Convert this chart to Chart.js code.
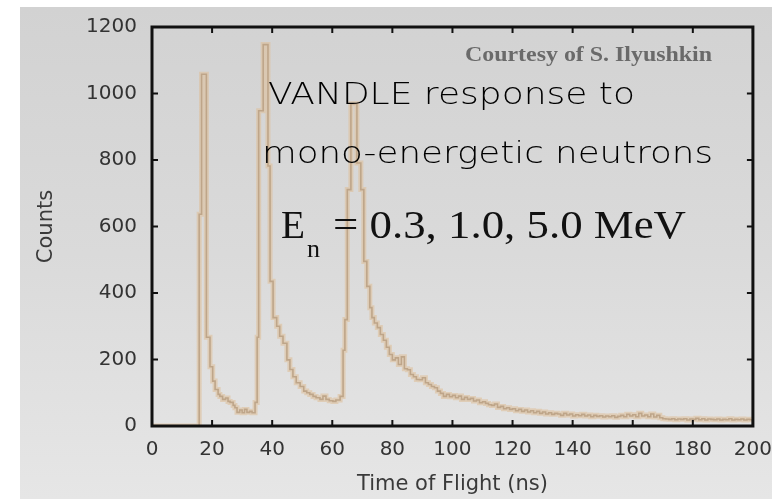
<!DOCTYPE html>
<html><head><meta charset="utf-8">
<script src="https://cdn.jsdelivr.net/npm/chart.js@4.4.1/dist/chart.umd.min.js"></script>
<style>html,body{margin:0;padding:0;background:#fff;}#wrap{width:784px;height:499px;}canvas{display:block}</style>
</head><body><div id="wrap"><canvas id="c" width="784" height="499"></canvas></div>
<script>
// ---- data (bin start in ns, counts in that bin) ----
const tofNs = [0,15.7,16.5,18.1,19.3,20.2,21.0,22.0,22.6,23.5,24.5,25.3,26.0,27.0,27.6,28.3,29.2,30.0,30.8,31.6,32.5,33.3,34.3,35.0,35.5,37.0,38.6,39.3,40.3,41.5,42.5,43.6,44.9,45.9,46.9,48.0,49.3,50.5,51.5,52.5,53.6,54.6,55.9,56.9,57.9,59.0,60.2,61.2,62.6,63.6,64.2,65.0,66.2,68.2,69.5,70.5,71.5,72.5,73.2,74,75,76,77,78,79,80,81,82,83,84,85,86,87,88,89,90,91,92,93,94,95,96,97,98,99,100,101,102,103,104,105,106,107,108,109,110,111,112,113,114,115,116,117,118,119,120,121,122,123,124,125,126,127,128,129,130,131,132,133,134,135,136,137,138,139,140,141,142,143,144,145,146,147,148,149,150,151,152,153,154,155,156,157,158,159,160,161,162,163,164,165,166,167,168,169,170,171,172,173,174,175,176,177,178,179,180,181,182,183,184,185,186,187,188,189,190,191,192,193,194,195,196,197,198,199,200];
const counts = [0,637,1058,267,178,135,110,95,89,80,84,74,71,62,55,41,48,40,50,41,44,40,71,267,948,1147,782,435,326,300,270,249,199,170,148,130,119,105,100,95,89,85,80,90,80,76,74,78,89,228,320,711,969,791,711,495,420,356,326,310,296,275,258,237,215,199,205,185,208,172,169,155,148,140,139,145,130,125,119,115,105,98,89,95,88,92,85,90,80,86,80,83,75,78,70,73,68,64,62,66,56,59,52,55,50,52,46,50,44,48,42,46,40,44,38,42,36,40,35,38,36,32,38,33,36,30,34,31,35,30,33,28,32,29,31,27,30,28,31,26,29,32,28,35,30,34,28,38,30,33,28,36,27,32,25,22,21,20,22,19,21,20,22,18,21,20,23,19,22,18,21,20,19,21,18,20,19,22,18,20,19,21,18,20,19,19];
const xTicks = [0,20,40,60,80,100,120,140,160,180,200];
const yTicks = [0,200,400,600,800,1000,1200];
const xTitle = 'Time of Flight (ns)';
const yTitle = 'Counts';
const creditText = 'Courtesy of S. Ilyushkin';
const noteLine1 = 'VANDLE response to';
const noteLine2 = 'mono-energetic neutrons';
const energySymbol = 'E';
const energySub = 'n';
const energyValues = '= 0.3, 1.0, 5.0 MeV';

// each count holds from its own bin start to the next bin start
const points = [];
tofNs.forEach((t, i) => {
  points.push({x: t, y: counts[i]});
});

function fitText(ctx, text, x, base, w, font, color) {
  ctx.save();
  ctx.font = font;
  const m = ctx.measureText(text).width;
  ctx.translate(x, base);
  ctx.scale(w / m, 1);
  ctx.fillStyle = color;
  ctx.textAlign = 'left';
  ctx.textBaseline = 'alphabetic';
  ctx.fillText(text, 0, 0);
  ctx.restore();
}

const decor = {
  id: 'decor',
  beforeDraw(chart) {
    const ctx = chart.ctx;
    ctx.save();
    ctx.fillStyle = '#ffffff';
    ctx.fillRect(0, 0, chart.width, chart.height);
    const g = ctx.createLinearGradient(0, 7, 0, 499);
    g.addColorStop(0, '#d2d2d2');
    g.addColorStop(0.5, '#dadada');
    g.addColorStop(1, '#e6e6e6');
    ctx.fillStyle = g;
    ctx.fillRect(20, 7, 752, 492);
    ctx.restore();
  },
  afterDraw(chart) {
    const ctx = chart.ctx;
    const a = chart.chartArea;
    const xs = chart.scales.x, ys = chart.scales.y;
    ctx.save();
    ctx.strokeStyle = '#111';
    ctx.lineWidth = 2;
    ctx.beginPath();
    xTicks.forEach(v => {
      const px = xs.getPixelForValue(v);
      ctx.moveTo(px, a.bottom); ctx.lineTo(px, a.bottom - 6);
      ctx.moveTo(px, a.top); ctx.lineTo(px, a.top + 6);
    });
    yTicks.forEach(v => {
      const py = ys.getPixelForValue(v);
      ctx.moveTo(a.left, py); ctx.lineTo(a.left + 6, py);
      ctx.moveTo(a.right, py); ctx.lineTo(a.right - 6, py);
    });
    ctx.stroke();
    ctx.lineWidth = 3;
    ctx.strokeRect(a.left, a.top, a.right - a.left, a.bottom - a.top);
    ctx.restore();

    fitText(ctx, creditText, 465, 61, 247, 'bold 20px "Liberation Serif"', '#6a6a6a');
    fitText(ctx, noteLine1, 268, 104, 367, '200 30px "DejaVu Sans"', '#000');
    fitText(ctx, noteLine2, 262, 163, 451, '200 30px "DejaVu Sans"', '#000');
    fitText(ctx, energySymbol, 281, 238, 24, '40px "Liberation Serif"', '#111');
    fitText(ctx, energySub, 307, 257, 13, '26px "Liberation Serif"', '#111');
    fitText(ctx, energyValues, 333, 238, 353, '40px "Liberation Serif"', '#111');

    ctx.save();
    ctx.fillStyle = '#ffffff';
    ctx.fillRect(772, 0, chart.width - 772, chart.height);
    ctx.fillRect(0, 0, chart.width, 7);
    ctx.fillRect(0, 0, 20, chart.height);
    ctx.restore();
  }
};

new Chart(document.getElementById('c'), {
  type: 'line',
  data: {
    datasets: [
      {data: points, stepped: 'before', borderColor: 'rgba(222,192,155,0.6)', borderWidth: 5, pointRadius: 0, fill: false},
      {data: points, stepped: 'before', borderColor: '#8f7e6e', borderWidth: 1.6, pointRadius: 0, fill: false}
    ]
  },
  options: {
    responsive: false,
    animation: false,
    events: [],
    layout: {padding: {left: 0, top: 22, right: 31, bottom: 0}},
    plugins: {legend: {display: false}, tooltip: {enabled: false}},
    scales: {
      x: {
        type: 'linear', min: 0, max: 200,
        afterBuildTicks: s => { s.ticks = xTicks.map(v => ({value: v})); },
        afterFit: s => { s.height = 73; },
        grid: {display: false, drawTicks: false},
        border: {display: false},
        ticks: {color: '#333', font: {family: 'DejaVu Sans', size: 20}, padding: 12, maxRotation: 0, autoSkip: false, callback: v => String(v)},
        title: {display: true, text: xTitle, color: '#3a3a3a', font: {family: 'DejaVu Sans', size: 21}, padding: {top: 0, bottom: 2}}
      },
      y: {
        type: 'linear', min: 0, max: 1200,
        afterBuildTicks: s => { s.ticks = yTicks.map(v => ({value: v})); },
        afterFit: s => { s.width = 152; },
        grid: {display: false, drawTicks: false},
        border: {display: false},
        ticks: {color: '#333', font: {family: 'DejaVu Sans', size: 20}, padding: 15, callback: v => String(v)},
        title: {display: true, text: yTitle, color: '#3a3a3a', font: {family: 'DejaVu Sans', size: 21}, padding: {top: 34, bottom: 0}}
      }
    }
  },
  plugins: [decor]
});
</script>
</body></html>
